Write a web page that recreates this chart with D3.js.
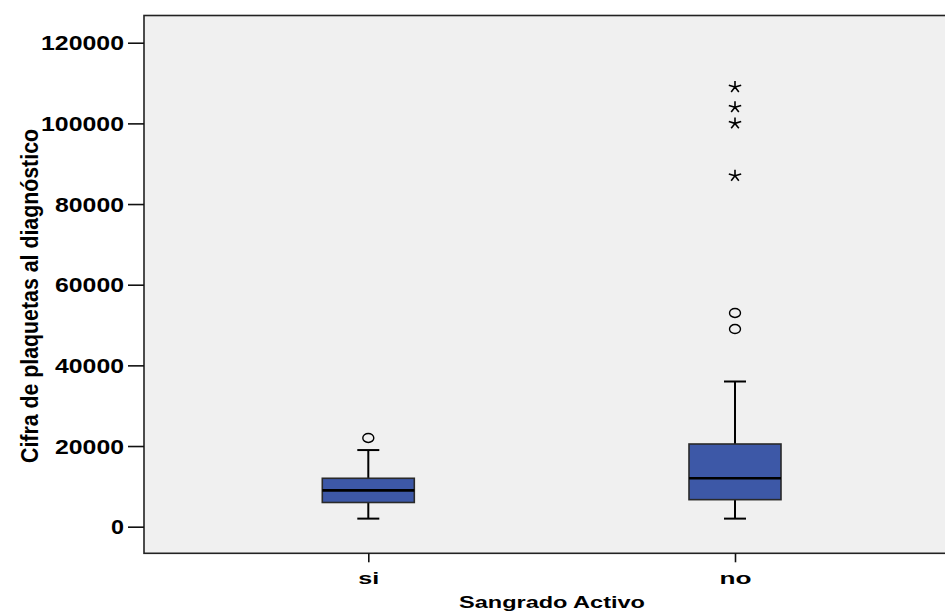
<!DOCTYPE html>
<html>
<head>
<meta charset="utf-8">
<script src="https://cdn.jsdelivr.net/npm/d3@7"></script>
<style>
  body { margin: 0; background: #fff; }
  svg { display: block; }
  text { font-family: "Liberation Sans", Arial, sans-serif; font-weight: bold; fill: #000; }
</style>
</head>
<body>
<div id="chart"></div>
<script>
// box plot values
const groups = ["si", "no"];
const q1 = [6000, 6700];
const medians = [9000, 12000];
const q3 = [12000, 20500];
const whiskerLow = [2000, 2000];
const whiskerHigh = [19000, 36000];
const outliers = [[22000], [49000, 53000]];          // circles
const extremes = [[], [87000, 100000, 104000, 109000]]; // stars
const yTicks = [0, 20000, 40000, 60000, 80000, 100000, 120000];

const width = 945, height = 615;
const plot = {left: 144, right: 947, top: 15.5, bottom: 553.3};

const svg = d3.select("#chart").append("svg")
    .attr("width", width)
    .attr("height", height);

const x = d3.scalePoint()
    .domain(groups)
    .range([368.3, 735]);

const y = d3.scaleLinear()
    .domain([-6600, 126750])
    .range([plot.bottom, plot.top]);

// plot background + frame
svg.append("rect")
    .attr("x", plot.left)
    .attr("y", plot.top)
    .attr("width", plot.right - plot.left)
    .attr("height", plot.bottom - plot.top)
    .attr("fill", "#f0f0f0")
    .attr("stroke", "#222")
    .attr("stroke-width", 1.6);

// y axis
const yAxis = svg.append("g")
    .attr("transform", "translate(" + plot.left + ",0)")
    .call(d3.axisLeft(y).tickValues(yTicks).tickSize(16).tickPadding(4).tickFormat(d3.format("d")));
yAxis.select(".domain").remove();
yAxis.selectAll(".tick line").attr("stroke", "#111").attr("stroke-width", 1.6);
yAxis.selectAll(".tick text")
    .attr("font-size", 20)
    .attr("dy", "0.36em")
    .attr("textLength", d => String(d).length * 14 - 1)
    .attr("lengthAdjust", "spacingAndGlyphs");

// x axis
const xAxis = svg.append("g")
    .attr("transform", "translate(0," + plot.bottom + ")")
    .call(d3.axisBottom(x).tickSize(9));
xAxis.select(".domain").remove();
xAxis.selectAll(".tick line").attr("stroke", "#111").attr("stroke-width", 1.6);
xAxis.selectAll(".tick text")
    .attr("font-size", 17)
    .attr("y", 30.7)
    .attr("dy", null)
    .attr("textLength", d => d === "si" ? 21 : 32)
    .attr("lengthAdjust", "spacingAndGlyphs");

// axis titles
svg.append("text")
    .attr("x", 552)
    .attr("y", 608)
    .attr("text-anchor", "middle")
    .attr("font-size", 16)
    .attr("textLength", 186)
    .attr("lengthAdjust", "spacingAndGlyphs")
    .text("Sangrado Activo");

svg.append("text")
    .attr("transform", "translate(37.5,296) rotate(-90) scale(1,1.15)")
    .attr("text-anchor", "middle")
    .attr("font-size", 20)
    .attr("textLength", 334)
    .attr("lengthAdjust", "spacingAndGlyphs")
    .text("Cifra de plaquetas al diagnóstico");

// boxes
const boxW = 92, capW = 22;
const g = svg.append("g");

groups.forEach((grp, i) => {
    const cx = x(grp);
    // whiskers
    g.append("line")
        .attr("x1", cx).attr("x2", cx)
        .attr("y1", y(whiskerHigh[i])).attr("y2", y(q3[i]))
        .attr("stroke", "#000").attr("stroke-width", 2);
    g.append("line")
        .attr("x1", cx).attr("x2", cx)
        .attr("y1", y(q1[i])).attr("y2", y(whiskerLow[i]))
        .attr("stroke", "#000").attr("stroke-width", 2);
    [whiskerHigh[i], whiskerLow[i]].forEach(v => {
        g.append("line")
            .attr("x1", cx - capW / 2).attr("x2", cx + capW / 2)
            .attr("y1", y(v)).attr("y2", y(v))
            .attr("stroke", "#000").attr("stroke-width", 2);
    });
    // box
    g.append("rect")
        .attr("x", cx - boxW / 2)
        .attr("y", y(q3[i]))
        .attr("width", boxW)
        .attr("height", y(q1[i]) - y(q3[i]))
        .attr("fill", "#3d58a7")
        .attr("stroke", "#2a2a2a")
        .attr("stroke-width", 1.6);
    // median
    g.append("line")
        .attr("x1", cx - boxW / 2).attr("x2", cx + boxW / 2)
        .attr("y1", y(medians[i])).attr("y2", y(medians[i]))
        .attr("stroke", "#000").attr("stroke-width", 2.6);

    // outliers
    g.selectAll(null)
        .data(outliers[i])
        .enter().append("ellipse")
        .attr("cx", cx)
        .attr("cy", d => y(d))
        .attr("rx", 5.5).attr("ry", 4.5)
        .attr("fill", "none")
        .attr("stroke", "#000")
        .attr("stroke-width", 1.4);

    // extremes as 5 arm asterisks
    const arms = [-90, -18, 54, 126, 198].map(a => a * Math.PI / 180);
    const star = "M0,0" + arms.map(a => "L" + (6.5 * Math.cos(a)).toFixed(2) + "," + (6 * Math.sin(a)).toFixed(2) + "M0,0").join("");
    g.selectAll(null)
        .data(extremes[i])
        .enter().append("path")
        .attr("transform", d => "translate(" + cx + "," + y(d) + ")")
        .attr("d", star)
        .attr("fill", "none")
        .attr("stroke", "#000")
        .attr("stroke-width", 1.6);
});
</script>
</body>
</html>
